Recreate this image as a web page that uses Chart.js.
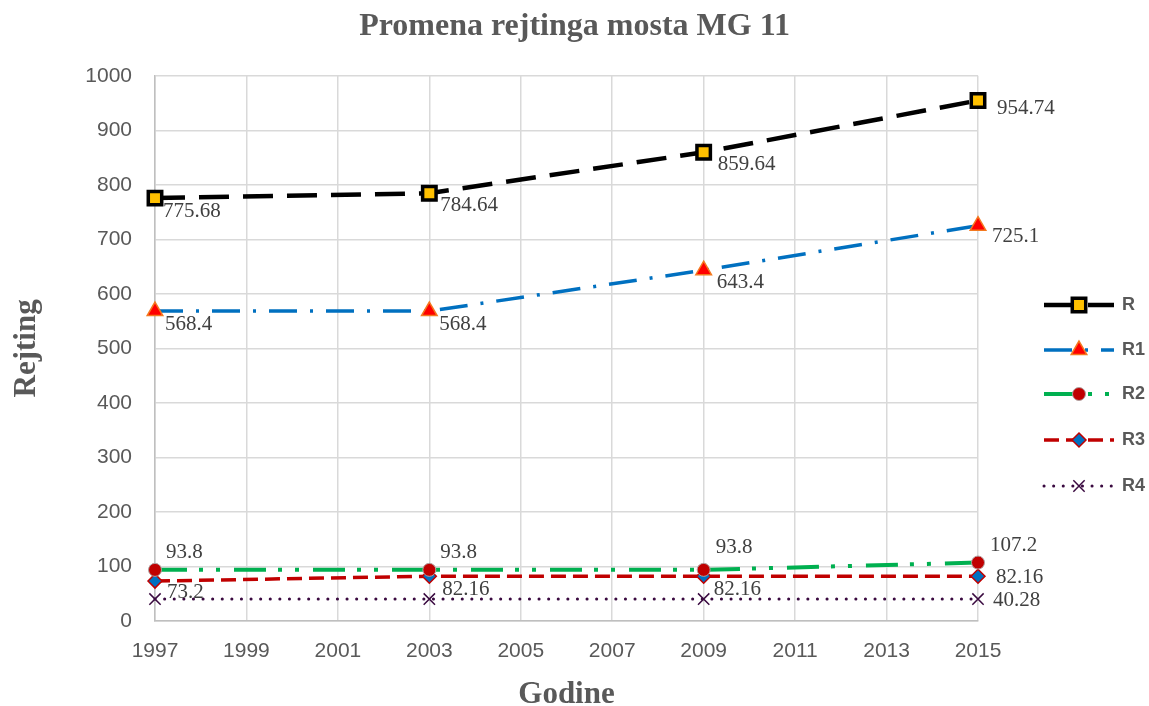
<!DOCTYPE html>
<html lang="sr">
<head>
<meta charset="UTF-8">
<script src="https://cdn.jsdelivr.net/npm/chart.js@4.4.1/dist/chart.umd.min.js"></script>
<title>Promena rejtinga mosta MG 11</title>
<style>
  body { margin: 0; background: #fff; }
</style>
</head>
<body>
<canvas id="chart" width="1149" height="706"></canvas>
<script>
// data
const years = [1997, 2003, 2009, 2015];
const seriesNames = ['R', 'R1', 'R2', 'R3', 'R4'];
const rValues = [775.68, 784.64, 859.64, 954.74];
const r1Values = [568.4, 568.4, 643.4, 725.1];
const r2Values = [93.8, 93.8, 93.8, 107.2];
const r3Values = [73.2, 82.16, 82.16, 82.16];
const r4Values = [40.28, 40.28, 40.28, 40.28];

const gray = '#595959';
const serif = '"Liberation Serif", "Times New Roman", serif';
const sans = '"Liberation Sans", Arial, sans-serif';

function pts(values) {
    return values.map((v, i) => ({x: years[i], y: v}));
}

function drawMarker(ctx, ds, x, y) {
    const r = ds.pointRadius;
    ctx.save();
    ctx.setLineDash([]);
    ctx.fillStyle = ds.pointBackgroundColor;
    ctx.strokeStyle = ds.pointBorderColor;
    ctx.lineWidth = ds.pointBorderWidth;
    ctx.beginPath();
    if (ds.pointStyle === 'rect') {
        const s = r * Math.SQRT1_2;
        ctx.rect(x - s, y - s, 2 * s, 2 * s);
    } else if (ds.pointStyle === 'triangle') {
        let a = 0;
        ctx.moveTo(x + Math.sin(a) * r, y - Math.cos(a) * r);
        a += Math.PI * 2 / 3;
        ctx.lineTo(x + Math.sin(a) * r, y - Math.cos(a) * r);
        a += Math.PI * 2 / 3;
        ctx.lineTo(x + Math.sin(a) * r, y - Math.cos(a) * r);
        ctx.closePath();
    } else if (ds.pointStyle === 'circle') {
        ctx.arc(x, y, r, 0, Math.PI * 2);
    } else if (ds.pointStyle === 'rectRot') {
        ctx.moveTo(x, y - r); ctx.lineTo(x + r, y); ctx.lineTo(x, y + r); ctx.lineTo(x - r, y);
        ctx.closePath();
    } else if (ds.pointStyle === 'crossRot') {
        const s = r * Math.SQRT1_2;
        ctx.moveTo(x - s, y - s); ctx.lineTo(x + s, y + s);
        ctx.moveTo(x - s, y + s); ctx.lineTo(x + s, y - s);
        ctx.stroke();
        ctx.restore();
        return;
    }
    ctx.fill();
    ctx.stroke();
    ctx.restore();
}

// value labels next to the points
const pointLabels = {
    id: 'pointLabels',
    afterDatasetsDraw(chart) {
        const ctx = chart.ctx;
        ctx.save();
        ctx.font = '21px ' + serif;
        ctx.fillStyle = '#404040';
        ctx.textAlign = 'left';
        ctx.textBaseline = 'middle';
        chart.data.datasets.forEach((ds, i) => {
            const meta = chart.getDatasetMeta(i);
            meta.data.forEach((p, j) => {
                const off = ds.labelOffsets[j];
                if (!off) return;
                ctx.fillText(String(ds.data[j].y), p.x + off[0], p.y + off[1]);
            });
        });
        ctx.restore();
    }
};

// legend on the right, line sample with marker in the middle
const sideLegend = {
    id: 'sideLegend',
    afterDraw(chart) {
        const ctx = chart.ctx;
        const rows = [305, 350, 394, 440, 486];
        chart.data.datasets.forEach((ds, i) => {
            const y = rows[i];
            ctx.save();
            ctx.strokeStyle = ds.borderColor;
            ctx.lineWidth = ds.borderWidth;
            ctx.lineCap = ds.borderCapStyle || 'butt';
            ctx.setLineDash(ds.borderDash || []);
            ctx.beginPath();
            ctx.moveTo(1044, y);
            ctx.lineTo(1114, y);
            ctx.stroke();
            ctx.restore();
            drawMarker(ctx, ds, 1079, y);
            ctx.save();
            ctx.font = 'bold 18px ' + sans;
            ctx.fillStyle = gray;
            ctx.textBaseline = 'middle';
            ctx.fillText(ds.label, 1122, y);
            ctx.restore();
        });
    }
};

const ctx = document.getElementById('chart').getContext('2d');
const myChart = new Chart(ctx, {
    type: 'line',
    data: {
        datasets: [
            {
                label: seriesNames[0],
                data: pts(rValues),
                clip: false,
                borderColor: '#000000',
                borderWidth: 4.5,
                borderDash: [30, 14],
                pointStyle: 'rect',
                pointRadius: 9.5,
                pointBackgroundColor: '#FFC000',
                pointBorderColor: '#000000',
                pointBorderWidth: 3.5,
                labelOffsets: [[8, 13], [11, 12], [14, 12], [19, 8]]
            },
            {
                label: seriesNames[1],
                data: pts(r1Values),
                clip: false,
                borderColor: '#0070C0',
                borderWidth: 3.5,
                borderDash: [28, 13, 3, 13],
                pointStyle: 'triangle',
                pointRadius: 9,
                pointBackgroundColor: '#FF0000',
                pointBorderColor: '#F4791F',
                pointBorderWidth: 1.5,
                labelOffsets: [[10, 13], [10, 13], [13, 12], [14, 11]]
            },
            {
                label: seriesNames[2],
                data: pts(r2Values),
                clip: false,
                borderColor: '#00B050',
                borderWidth: 4,
                borderDash: [32, 12, 4, 13, 4, 14],
                pointStyle: 'circle',
                pointRadius: 6.5,
                pointBackgroundColor: '#C00000',
                pointBorderColor: '#B0A0A0',
                pointBorderWidth: 1,
                labelOffsets: [[11, -17], [11, -17], [12, -22], [12, -17]]
            },
            {
                label: seriesNames[3],
                data: pts(r3Values),
                clip: false,
                borderColor: '#C00000',
                borderWidth: 3.5,
                borderDash: [15, 7],
                pointStyle: 'rectRot',
                pointRadius: 7,
                pointBackgroundColor: '#0070C0',
                pointBorderColor: '#C00000',
                pointBorderWidth: 1.5,
                labelOffsets: [[12, 11], [13, 13], [10, 13], [18, 1]]
            },
            {
                label: seriesNames[4],
                data: pts(r4Values),
                clip: false,
                borderColor: '#3A0A40',
                borderWidth: 3,
                borderDash: [0.1, 9.5],
                borderCapStyle: 'round',
                pointStyle: 'crossRot',
                pointRadius: 8,
                pointBackgroundColor: '#3A0A40',
                pointBorderColor: '#3A0A40',
                pointBorderWidth: 1.5,
                labelOffsets: [null, null, null, [15, 1]]
            }
        ]
    },
    options: {
        responsive: false,
        animation: false,
        layout: {padding: 0},
        plugins: {
            legend: {display: false},
            tooltip: {enabled: false},
            title: {
                display: true,
                text: 'Promena rejtinga mosta MG 11',
                color: gray,
                font: {family: serif, size: 32, weight: 'bold', lineHeight: 1.15},
                padding: {top: 8, bottom: 31}
            }
        },
        elements: {line: {tension: 0}},
        scales: {
            x: {
                type: 'linear',
                min: 1997,
                max: 2015,
                ticks: {
                    stepSize: 2,
                    color: gray,
                    font: {family: sans, size: 21},
                    padding: 18,
                    callback: v => String(v)
                },
                grid: {color: '#D9D9D9', lineWidth: 1.5, drawTicks: false},
                border: {color: '#BFBFBF', width: 1.5},
                title: {
                    display: true,
                    text: 'Godine',
                    color: gray,
                    font: {family: serif, size: 31, weight: 'bold', lineHeight: 1},
                    padding: {top: 0, bottom: -4}
                },
                afterFit(scale) { scale.height = 85; }
            },
            y: {
                min: 0,
                max: 1000,
                ticks: {
                    stepSize: 100,
                    color: gray,
                    font: {family: sans, size: 21},
                    padding: 23,
                    callback: v => String(v)
                },
                grid: {color: '#D9D9D9', lineWidth: 1.5, drawTicks: false},
                border: {color: '#BFBFBF', width: 1.5},
                title: {
                    display: true,
                    text: 'Rejting',
                    color: gray,
                    font: {family: serif, size: 31, weight: 'bold', lineHeight: 1},
                    padding: {top: 11, bottom: 0}
                },
                afterFit(scale) { scale.width = 155; }
            },
            // empty right-hand axis that keeps room for the legend
            side: {
                position: 'right',
                display: true,
                ticks: {display: false},
                grid: {display: false, drawTicks: false},
                border: {display: false},
                afterFit(scale) { scale.width = 171; }
            }
        }
    },
    plugins: [pointLabels, sideLegend]
});
</script>
</body>
</html>
